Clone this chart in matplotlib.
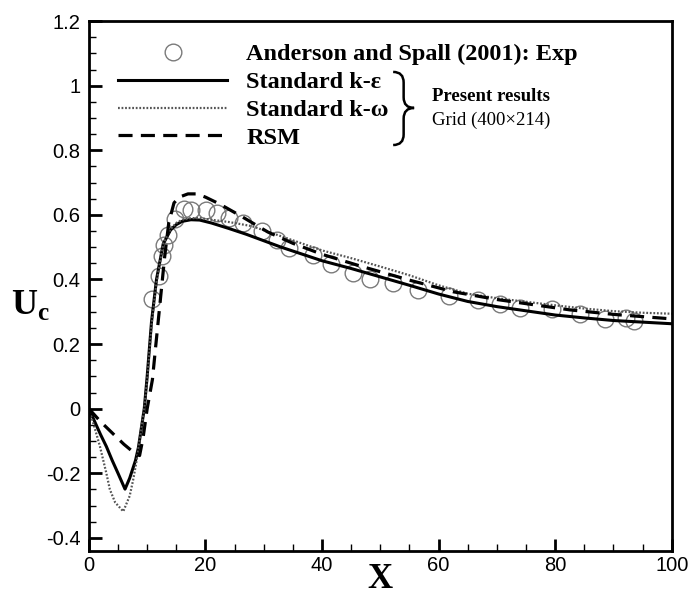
import matplotlib
matplotlib.use("Agg")
import matplotlib.pyplot as plt
from matplotlib.path import Path
from matplotlib.patches import PathPatch
from matplotlib.ticker import MultipleLocator

plt.rcParams['font.family'] = ['Liberation Sans', 'DejaVu Sans']
plt.rcParams['mathtext.fontset'] = 'custom'
plt.rcParams['mathtext.bf'] = 'Liberation Serif:bold'
plt.rcParams['mathtext.rm'] = 'Liberation Serif'

# experiment, Anderson and Spall (2001)
exp_x = [10.75, 12.1, 12.6, 12.9, 13.5, 14.75, 16.3, 17.6, 20.1, 22.0, 24.0,
         26.4, 29.7, 32.2, 34.4, 38.5, 41.6, 45.3, 48.3, 52.2, 56.5, 61.8,
         66.8, 70.5, 74.0, 79.5, 84.3, 88.6, 92.1, 93.5]
exp_u = [0.340, 0.412, 0.474, 0.508, 0.539, 0.587, 0.618, 0.614, 0.616, 0.606,
         0.590, 0.575, 0.549, 0.523, 0.497, 0.477, 0.449, 0.420, 0.401, 0.389,
         0.368, 0.348, 0.337, 0.324, 0.312, 0.309, 0.294, 0.278, 0.281, 0.273]

# standard k-epsilon
ke_x = [0, 1, 2, 3, 4, 5, 6.2, 7, 8, 8.5, 9, 9.5, 10, 10.75, 11.6, 12.75,
        14, 15, 16, 17.5, 19, 21, 24, 27, 30, 33, 36, 40, 45, 50, 55, 60,
        65, 70, 75, 80, 85, 90, 95, 100]
ke_u = [0, -0.04, -0.08, -0.117, -0.16, -0.2, -0.249, -0.215, -0.16, -0.12,
        -0.06, 0.0, 0.1, 0.27, 0.40, 0.51, 0.553, 0.570, 0.580, 0.585, 0.584,
        0.575, 0.558, 0.540, 0.520, 0.500, 0.482, 0.458, 0.434, 0.408, 0.382,
        0.355, 0.332, 0.316, 0.303, 0.290, 0.281, 0.273, 0.268, 0.263]

# standard k-omega
kw_x = [0, 1, 1.9, 3, 3.6, 4.5, 5.9, 7, 7.6, 8.2, 9, 9.5, 10, 10.75, 11.6,
        12.75, 14, 15, 16, 17.5, 19, 21, 24, 28, 32, 36, 40, 45, 50, 55, 60,
        65, 70, 75, 80, 85, 90, 95, 100]
kw_u = [0, -0.06, -0.117, -0.2, -0.25, -0.29, -0.318, -0.27, -0.22, -0.16,
        -0.06, 0.0, 0.09, 0.26, 0.39, 0.51, 0.556, 0.575, 0.585, 0.59, 0.59,
        0.585, 0.578, 0.565, 0.540, 0.515, 0.490, 0.466, 0.440, 0.413, 0.382,
        0.356, 0.342, 0.331, 0.320, 0.310, 0.302, 0.297, 0.294]

# RSM
rsm_x = [0, 1, 2, 4, 6, 8, 8.7, 9.3, 10, 10.9, 11.5, 12, 12.5, 13, 13.7, 14.6,
         15.5, 17, 18.5, 20, 22.5, 26.4, 30.7, 35, 40, 46.5, 55, 62.5, 70,
         82.5, 90, 100]
rsm_u = [0, -0.02, -0.04, -0.075, -0.11, -0.14, -0.145, -0.09, 0.0, 0.09, 0.2,
         0.29, 0.38, 0.47, 0.575, 0.637, 0.655, 0.665, 0.665, 0.655, 0.633,
         0.593, 0.547, 0.512, 0.478, 0.442, 0.398, 0.362, 0.338, 0.306, 0.292,
         0.278]

fig = plt.figure(figsize=(6.89, 6.02), dpi=100)
ax = fig.add_axes([0.129, 0.085, 0.846, 0.88])

h_exp, = ax.plot(exp_x, exp_u, 'o', ms=12, mfc='none', mec='#7a7a7a', mew=1.0,
                 label='Anderson and Spall (2001): Exp')
h_ke, = ax.plot(ke_x, ke_u, '-', color='black', lw=2.2, label='Standard k-\u03b5')
h_kw, = ax.plot(kw_x, kw_u, color='#555555', lw=1.6, ls=(0, (0.8, 0.8)),
                label='Standard k-\u03c9')
h_rsm, = ax.plot(rsm_x, rsm_u, color='black', lw=2.3, ls=(0, (4.4, 2.6)),
                 label='RSM')

ax.set_xlim(0, 100)
ax.set_ylim(-0.44, 1.2)
ax.xaxis.set_minor_locator(MultipleLocator(5))
ax.yaxis.set_minor_locator(MultipleLocator(0.05))
ax.set_xticks([0, 20, 40, 60, 80, 100])
ax.set_xticklabels(['0', '20', '40', '60', '80', '100'])
ax.set_yticks([-0.4, -0.2, 0, 0.2, 0.4, 0.6, 0.8, 1.0, 1.2])
ax.set_yticklabels(['-0.4', '-0.2', '0', '0.2', '0.4', '0.6', '0.8', '1', '1.2'])
ax.tick_params(which='both', direction='in', top=False, right=False,
               labelsize=14.5, color='black')
ax.tick_params(which='major', length=9, width=2)
ax.tick_params(which='minor', length=5, width=1)
ax.tick_params(axis='y', pad=6)
ax.tick_params(axis='x', pad=4)
for s in ax.spines.values():
    s.set_linewidth(2)

ax.set_xlabel('X', fontfamily='Liberation Serif', fontweight='bold',
              fontsize=25, va='center')
ax.xaxis.set_label_coords(0.5, -0.054)
ax.set_ylabel(r'$\mathbf{U}_{\mathbf{c}}$', fontsize=26, rotation=0,
              ha='center', va='center')
ax.yaxis.set_label_coords(-0.10, 0.465)

leg = ax.legend(handles=[h_exp, h_ke, h_kw, h_rsm], loc='upper left',
                bbox_to_anchor=(0.05, 0.958), frameon=False, borderpad=0,
                borderaxespad=0, handlelength=4.5, handletextpad=0.78,
                labelspacing=0.24,
                prop={'family': 'Liberation Serif', 'weight': 'bold', 'size': 17.5})

# brace grouping the three model curves
x0, x1, xm = 0.522, 0.558, 0.54
yt, yb, ym = 0.904, 0.766, 0.836
verts = [(x0, yt), (xm, yt), (xm, yt - 0.02), (xm, ym + 0.02),
         (xm, ym), (x1, ym), (x1, ym),
         (xm, ym), (xm, ym - 0.02), (xm, yb + 0.02),
         (xm, yb), (x0, yb)]
codes = [Path.MOVETO, Path.CURVE3, Path.LINETO, Path.LINETO,
         Path.CURVE3, Path.LINETO, Path.MOVETO,
         Path.CURVE3, Path.LINETO, Path.LINETO,
         Path.CURVE3, Path.LINETO]
ax.add_patch(PathPatch(Path(verts, codes), transform=ax.transAxes,
                       fill=False, lw=1.8, color='black'))

ax.text(0.588, 0.858, 'Present results', transform=ax.transAxes,
        fontfamily='Liberation Serif', fontweight='bold', fontsize=13.5,
        va='center', ha='left')
ax.text(0.588, 0.813, 'Grid (400\u00d7214)', transform=ax.transAxes,
        fontfamily='Liberation Serif', fontsize=13.5, va='center', ha='left')

fig.savefig('out.png', dpi=100)
